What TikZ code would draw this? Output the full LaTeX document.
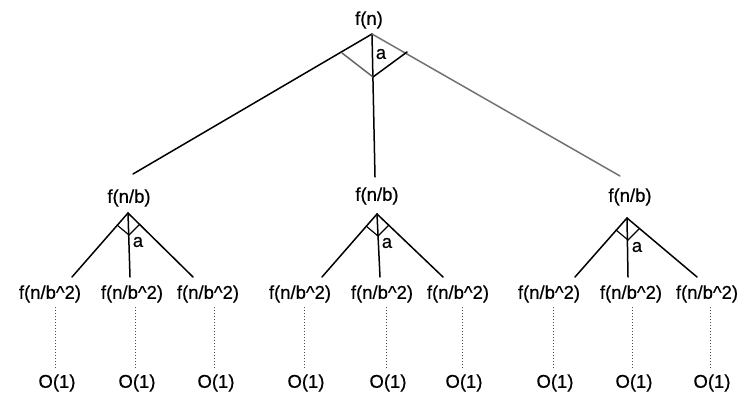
\documentclass[tikz,border=0pt]{standalone}
\usepackage{fontspec}
\setmainfont{Liberation Sans}
\newfontfamily\treefont[FakeBold=0.5]{Liberation Sans}
\tikzset{
  lbl/.style={font=\treefont\fontsize{18.5}{20}\selectfont, inner sep=0pt},
  br/.style={line width=1.5pt, line cap=round},
  leaf/.style={dotted, line width=1pt, black!70}
}
\begin{document}
\begin{tikzpicture}[x=1pt,y=-1pt]
\useasboundingbox[fill=white] (0,0) rectangle (746,398);
% root and its split
\node[lbl] (root) at (369,20) {f(n)};
\coordinate (r0) at (372,34);
\coordinate (rl) at (342,53);
\coordinate (rb) at (373,77);
\coordinate (rr) at (407,52);
\coordinate (t1) at (133,174);
\coordinate (t2) at (375,177);
\coordinate (t3) at (620,176);
\draw[br] (r0) -- (t1);
\draw[br] (r0) -- (t2);
\draw[br, black!55] (r0) -- (t3);
\draw[br, black!60] (rl) -- (rb);
\draw[br] (rb) -- (rr);
\node[lbl] (ra) at (381,54) {a};
% second level
\foreach \k/\lx/\ly/\ax/\ay in {1/129/198/128/213, 2/377/196/377/214, 3/630/197/627/218} {
  \node[lbl] (s\k) at (\lx,\ly) {f(n/b)};
  \coordinate (a\k) at (\ax,\ay);
  \coordinate (dl\k) at (\ax-11,\ay+12);
  \coordinate (db\k) at (\ax+1,\ay+22);
  \coordinate (dr\k) at (\ax+12,\ay+11);
  \draw[br, line width=1.2pt] (dl\k) -- (db\k) -- (dr\k);
  \node[lbl] (sa\k) at (\ax+10,\ay+29) {a};
}
% third level with leaves
\foreach \k/\p/\ex/\lx/\ox in {1/1/72/50/57, 2/1/130/132/137, 3/1/193/208/216,
    4/2/322/300/306, 5/2/380/382/388, 6/2/443/458/464,
    7/3/575/549/555, 8/3/628/631/634, 9/3/697/707/712} {
  \coordinate (e\k) at (\ex,277);
  \draw[br] (a\p) -- (e\k);
  \node[lbl] (c\k) at (\lx,294) {f(n/b\^{}2)};
  \node[lbl] (o\k) at (\ox,383) {O(1)};
  \coordinate (u\k) at (\ox-2,307);
  \coordinate (v\k) at (\ox-2,369);
  \draw[leaf] (u\k) -- (v\k);
}
\end{tikzpicture}
\end{document}
